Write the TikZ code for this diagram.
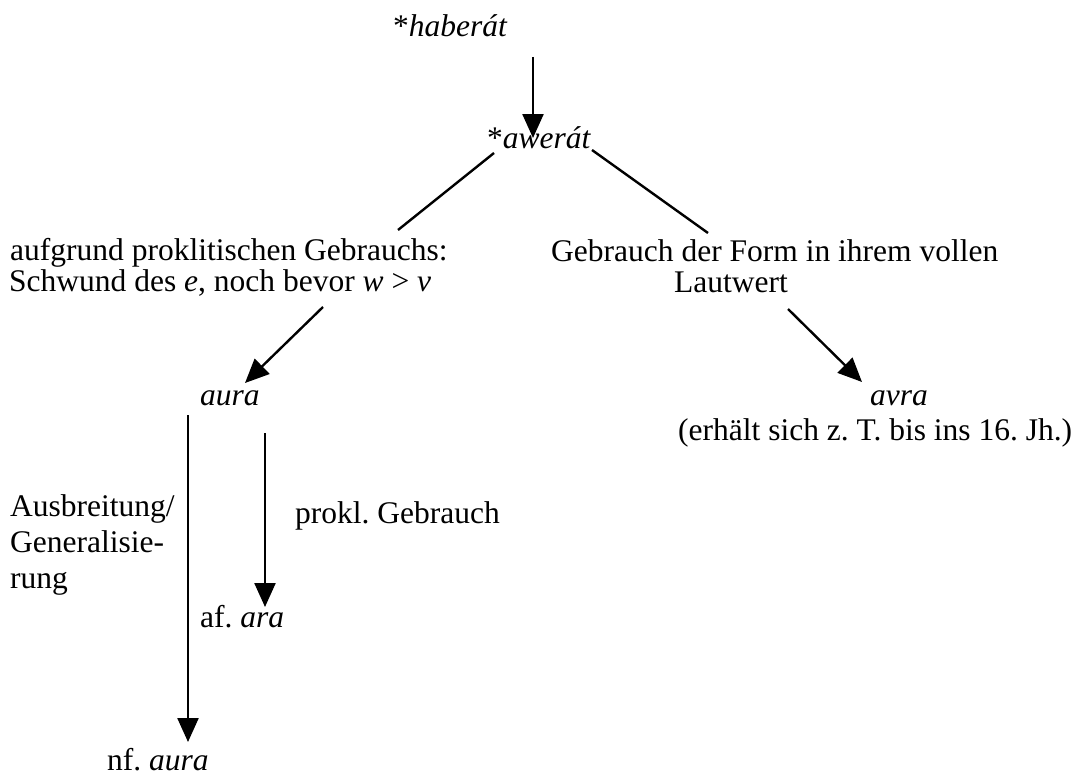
\documentclass[tikz,border=0pt]{standalone}
\usepackage{fontspec}
\setmainfont{Liberation Serif}
\usetikzlibrary{arrows.meta}
\frenchspacing
\begin{document}
\begin{tikzpicture}[x=1pt,y=-1pt,
  txt/.style={inner sep=0pt,anchor=base west,font=\fontsize{31.5}{36}\selectfont},
  arr/.style={line width=2.4pt,-{Triangle[length=24pt,width=21pt]}},
  ln/.style={line width=2.4pt}]
\useasboundingbox (0,0) rectangle (1077,776);
% texts
\node[txt] (haberat) at (393,37) {*\textit{haberát}};
\node[txt] (awerat) at (487,148) {*\textit{awerát}};
\node[txt] (la1) at (10,260) {aufgrund proklitischen Gebrauchs:};
\node[txt] (la2) at (9,291) {Schwund des \textit{e}, noch bevor \textit{w} > \textit{v}};
\node[txt] (ra1) at (551,261) {Gebrauch der Form in ihrem vollen};
\node[txt] (ra2) at (674,292) {Lautwert};
\node[txt] (aura) at (200,405) {\textit{aura}};
\node[txt] (avra) at (870,405) {\textit{avra}};
\node[txt] (avra2) at (678,440) {(erhält sich z. T. bis ins 16. Jh.)};
\node[txt] (ab1) at (10,516) {Ausbreitung/};
\node[txt] (ab2) at (10,552) {Generalisie-};
\node[txt] (ab3) at (10,588) {rung};
\node[txt] (prokl) at (295,523) {prokl. Gebrauch};
\node[txt] (ara) at (200,627) {af. \textit{ara}};
\node[txt] (nfaura) at (107,770) {nf. \textit{aura}};
% connector ends
\coordinate (c1s) at (533,57);  \coordinate (c1e) at (533,138);
\coordinate (c2s) at (494,153); \coordinate (c2e) at (398,230);
\coordinate (c3s) at (592,150); \coordinate (c3e) at (708,233);
\coordinate (c4s) at (323,307); \coordinate (c4e) at (245,383);
\coordinate (c5s) at (788,309); \coordinate (c5e) at (862,382);
\coordinate (c6s) at (188,415); \coordinate (c6e) at (188,742);
\coordinate (c7s) at (265,433); \coordinate (c7e) at (265,607);
% connectors
\draw[arr] (c1s) -- (c1e);
\draw[ln] (c2s) -- (c2e);
\draw[ln] (c3s) -- (c3e);
\draw[arr] (c4s) -- (c4e);
\draw[arr] (c5s) -- (c5e);
\draw[arr] (c6s) -- (c6e);
\draw[arr] (c7s) -- (c7e);
\end{tikzpicture}
\end{document}
